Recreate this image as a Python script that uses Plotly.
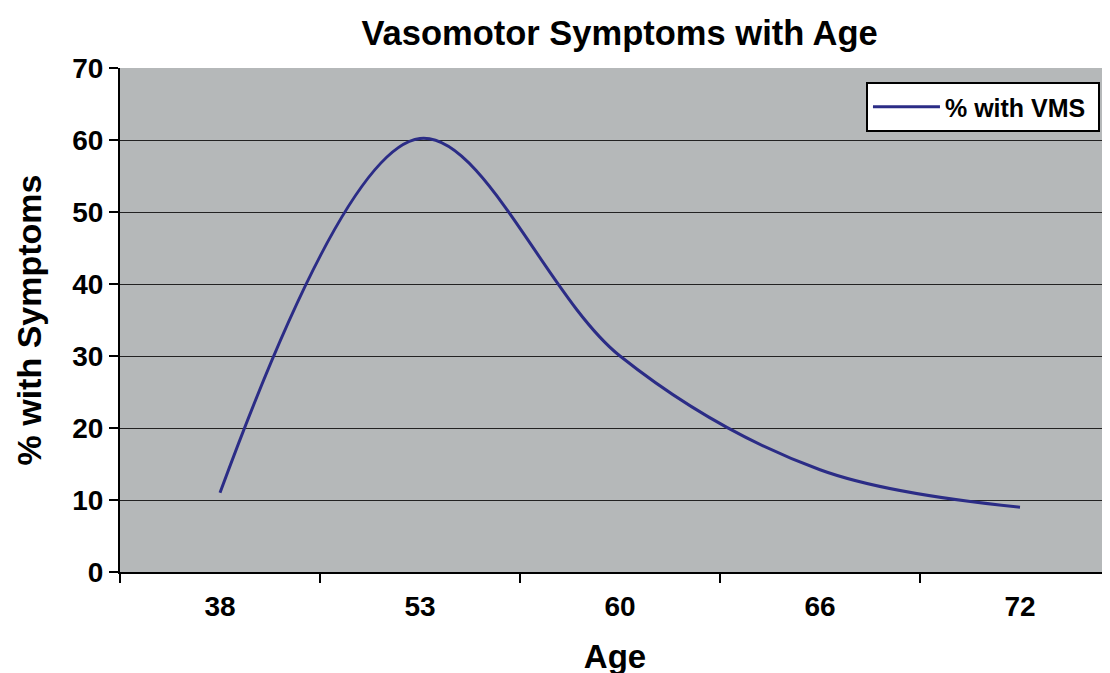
import plotly.graph_objects as go

ages = ["38", "53", "60", "66", "72"]
pct_vms = [11, 60.2, 30, 14.2, 9]
y_ticks = [0, 10, 20, 30, 40, 50, 60, 70]

fig = go.Figure()
fig.add_trace(go.Scatter(
    x=ages,
    y=pct_vms,
    mode="lines",
    name="<b>% with VMS</b>&nbsp;",
    line=dict(color="#2B2C86", width=3, shape="spline", smoothing=1),
))

# page body adds an 8px offset, margins are set to compensate
fig.update_layout(
    width=1110,
    height=673,
    margin=dict(l=112, r=8, t=60, b=109),
    paper_bgcolor="white",
    plot_bgcolor="#B5B8B9",
    font=dict(family="Liberation Sans", color="black"),
    title=dict(
        text="<b>Vasomotor Symptoms with Age</b>",
        font=dict(size=34.5),
        x=0.551, xanchor="center",
        y=0.963, yanchor="middle",
    ),
    showlegend=True,
    legend=dict(
        x=0.7535, y=0.972, xanchor="left", yanchor="top",
        bgcolor="white", bordercolor="black", borderwidth=2,
        font=dict(size=25, family="Liberation Sans"),
        itemwidth=67,
    ),
)

fig.update_xaxes(
    type="category",
    range=[-0.5, 4.45],
    tickson="boundaries",
    ticks="outside", ticklen=9, tickwidth=2, tickcolor="black",
    showline=True, linecolor="black", linewidth=2,
    showgrid=False,
    tickfont=dict(size=28, family="Liberation Sans"),
    tickprefix="<b>", ticksuffix="</b>",
    ticklabelstandoff=8,
    title=dict(text="<b>Age</b>", font=dict(size=33), standoff=24),
)

fig.update_yaxes(
    range=[0, 70],
    tickvals=y_ticks,
    ticktext=[f"<b>{v}</b>" for v in y_ticks],
    ticks="outside", ticklen=9, tickwidth=2, tickcolor="black",
    showline=True, linecolor="black", linewidth=2,
    showgrid=True, gridcolor="#222222", gridwidth=1,
    zeroline=False,
    tickfont=dict(size=28, family="Liberation Sans"),
    title=dict(text="<b>% with Symptoms</b>", font=dict(size=34), standoff=20),
)

fig.write_html("out.html")
